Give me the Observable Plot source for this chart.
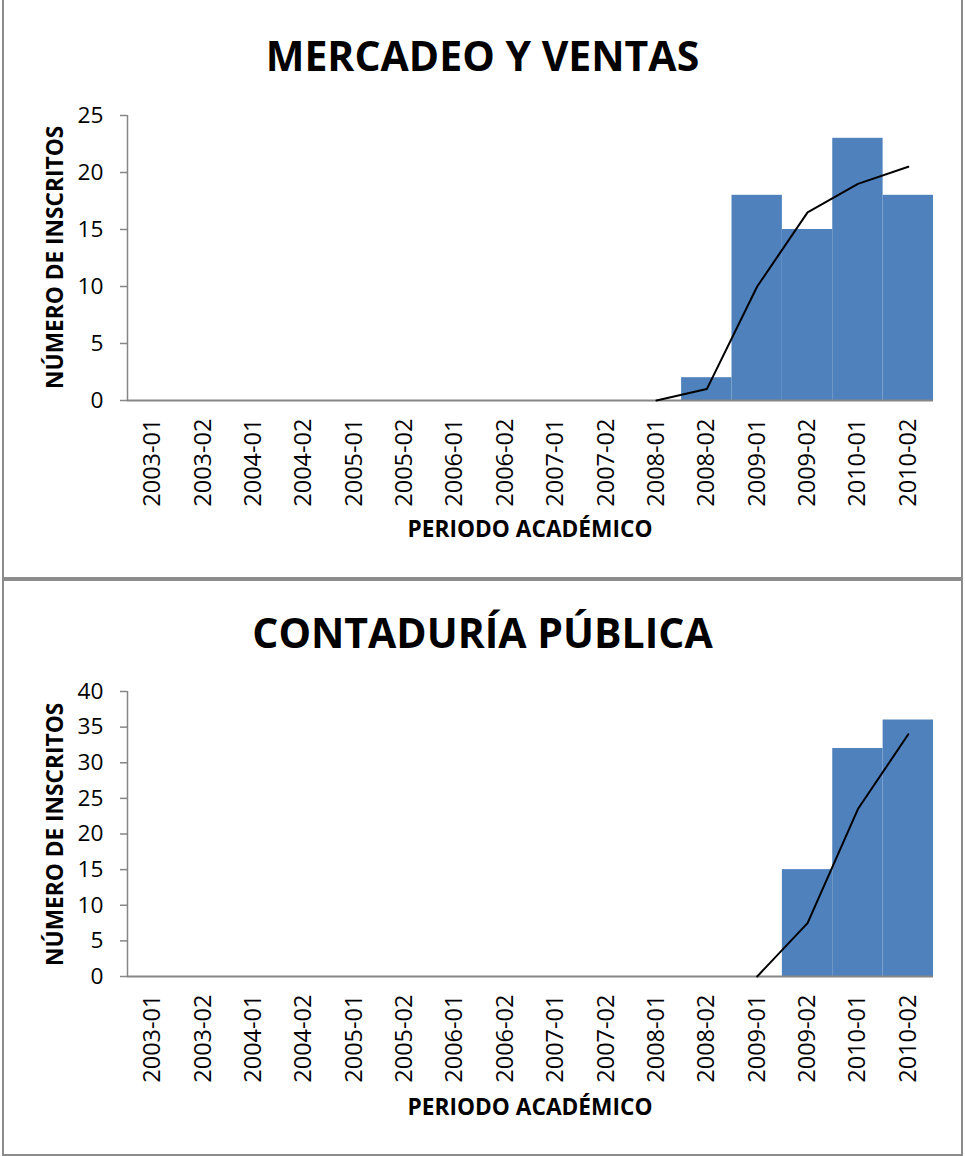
<!DOCTYPE html>
<html><head><meta charset="utf-8">
<script src="https://cdn.jsdelivr.net/npm/d3@7"></script>
<script src="https://cdn.jsdelivr.net/npm/@observablehq/plot@0.6"></script>
<style>
body{margin:0;background:#fff;font-family:"Open Sans",sans-serif;}
#page{position:relative;width:965px;height:1156px;overflow:hidden;}
.box{position:absolute;left:2px;width:961px;border:2px solid #8c8c8c;box-sizing:border-box;}
.title{position:absolute;left:0;width:965px;text-align:center;font-weight:bold;font-size:41px;line-height:1;color:#000;}
.xlab{position:absolute;left:130px;width:800px;text-align:center;font-weight:bold;font-size:22.7px;line-height:1;}
.ylab{position:absolute;width:300px;text-align:center;font-weight:bold;font-size:22.7px;line-height:1;transform:rotate(-90deg);transform-origin:center center;}
.plot{position:absolute;left:0;}
</style></head>
<body><div id="page">
<div class="box" style="top:-2px;height:581px;"></div>
<div class="box" style="top:579px;height:577px;"></div>
<div class="title" style="top:35px;">MERCADEO Y VENTAS</div>
<div class="title" style="top:612px;">CONTADURÍA PÚBLICA</div>
<div class="plot" id="p1" style="top:0px;"></div>
<div class="plot" id="p2" style="top:578px;"></div>
<div class="xlab" style="top:518px;">PERIODO ACADÉMICO</div>
<div class="xlab" style="top:1096px;">PERIODO ACADÉMICO</div>
<div class="ylab" style="left:-95px;top:246px;">NÚMERO DE INSCRITOS</div>
<div class="ylab" style="left:-95px;top:823px;">NÚMERO DE INSCRITOS</div>
</div>
<script>
const periods = ["2003-01","2003-02","2004-01","2004-02","2005-01","2005-02","2006-01","2006-02","2007-01","2007-02","2008-01","2008-02","2009-01","2009-02","2010-01","2010-02"];
const mercadeo = [0,0,0,0,0,0,0,0,0,0,0,2,18,15,23,18];
const mercadeoTrend = [null,null,null,null,null,null,null,null,null,null,0,1,10,16.5,19,20.5];
const contaduria = [0,0,0,0,0,0,0,0,0,0,0,0,0,15,32,36];
const contaduriaTrend = [null,null,null,null,null,null,null,null,null,null,null,null,0,7.5,23.5,34];
const mercadeoTicks = [0,5,10,15,20,25];
const contaduriaTicks = [0,5,10,15,20,25,30,35,40];

function chart(values, trend, ticks, mt, mb) {
  const idx = d3.range(periods.length);
  return Plot.plot({
    width: 965, height: 578,
    marginLeft: 127, marginRight: 32, marginTop: mt, marginBottom: mb,
    style: {fontFamily: "'Open Sans', sans-serif", color: "#000", background: "transparent"},
    x: {domain: [0, periods.length], axis: null},
    y: {domain: [0, ticks[ticks.length - 1]], axis: null},
    marks: [
      Plot.rectY(idx, {x1: i => i, x2: i => i + 1, y: i => values[i], fill: "#4F81BD"}),
      Plot.ruleX([0], {stroke: "#868686", strokeWidth: 1.5}),
      Plot.ruleY([0], {stroke: "#868686", strokeWidth: 2}),
      Plot.axisY({ticks: ticks, tickSize: 7, tickPadding: 17, stroke: "#868686", strokeWidth: 1.5, fill: "#000", fontSize: 22.7}),
      Plot.axisX({ticks: idx.map(i => i + 0.5), tickFormat: t => periods[Math.floor(t)], tickRotate: -90, tickSize: 0, tickPadding: 18, fill: "#000", fontSize: 23.5}),
      Plot.line(idx.filter(i => trend[i] != null), {x: i => i + 0.5, y: i => trend[i], stroke: "#000", strokeWidth: 2})
    ]
  });
}
document.getElementById("p1").appendChild(chart(mercadeo, mercadeoTrend, mercadeoTicks, 115, 178));
document.getElementById("p2").appendChild(chart(contaduria, contaduriaTrend, contaduriaTicks, 113, 180));
</script>
</body></html>
